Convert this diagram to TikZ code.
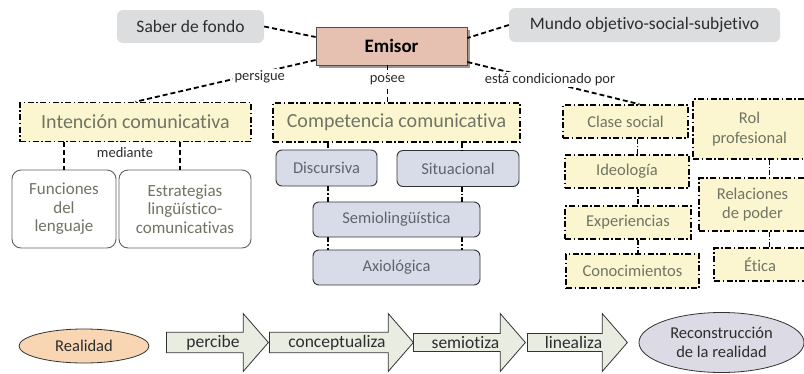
\documentclass[tikz,border=0pt]{standalone}
\usepackage{fontspec}
\setmainfont{Carlito}[Ligatures=NoCommon]
\usepackage{tikz}
\usetikzlibrary{arrows.meta, positioning, shapes.geometric, shapes.arrows, shadows}

\definecolor{boxgray}{RGB}{220,221,223}
\definecolor{emisorfill}{RGB}{230,193,178}
\definecolor{paleyellow}{RGB}{252,246,208}
\definecolor{sagetext}{RGB}{110,117,100}
\definecolor{paleblue}{RGB}{216,220,232}
\definecolor{bluetext}{RGB}{95,100,108}
\definecolor{palegreen}{RGB}{233,237,225}
\definecolor{peach}{RGB}{248,214,180}
\definecolor{lavender}{RGB}{220,218,228}
\definecolor{inktext}{RGB}{45,45,45}

\begin{document}
\begin{tikzpicture}[
      x=1pt, y=-1pt,
      background/.style={rounded corners=6pt, fill=boxgray, text=inktext, inner sep=0pt, font=\fontsize{17.5}{20}\selectfont},
      sender/.style={draw=gray!60!black, line width=0.8pt, fill=emisorfill, inner sep=0pt, font=\bfseries\fontsize{19}{22}\selectfont,
          drop shadow={shadow xshift=2.5pt, shadow yshift=-2.5pt, fill=gray!80, opacity=1}},
      goal/.style={draw=black, line width=1.5pt, dash pattern=on 6pt off 2.5pt on 1.5pt off 2.5pt, fill=paleyellow, text=sagetext,
          inner sep=0pt, align=center, font=\fontsize{20}{22}\selectfont},
      factor/.style={goal, font=\fontsize{16.5}{19.5}\selectfont},
      means/.style={draw=gray!75!black, line width=0.9pt, rounded corners=9pt, fill=white, text=sagetext, inner sep=0pt, align=center,
          font=\fontsize{17}{18.5}\selectfont},
      skill/.style={draw=gray!40!black, line width=0.9pt, rounded corners=6pt, fill=paleblue, text=bluetext, inner sep=0pt,
          font=\fontsize{16.5}{19}\selectfont},
      stage/.style={single arrow, draw=gray!40!black, line width=0.8pt, fill=palegreen, text=inktext, anchor=tail, inner sep=0pt,
          minimum width=58pt, single arrow head extend=14.5pt, single arrow tip angle=98, font=\fontsize{17.5}{20}\selectfont},
      world/.style={ellipse, draw=gray!40!black, line width=0.8pt, text=inktext, inner sep=0pt, align=center,
          font=\fontsize{16.5}{19}\selectfont},
      link/.style={line width=1.8pt, dash pattern=on 5pt off 3pt},
      dotlink/.style={line width=1.3pt, dash pattern=on 5pt off 2pt on 1.5pt off 2pt},
      verb/.style={fill=white, inner sep=1.5pt, text=inktext, font=\fontsize{14.5}{16}\selectfont}
  ]
      \useasboundingbox (0,0) rectangle (804,373);
      \clip (0,0) rectangle (804,373);

      % Top row
      \node[background, minimum width=147pt, minimum height=33pt] (saber) at (190.5,26.5) {Saber de fondo};
      \node[background, minimum width=271pt, minimum height=34pt] (mundo) at (644.5,25) {Mundo objetivo-social-subjetivo};
      \node[sender, minimum width=151pt, minimum height=38pt] (emisor) at (391.5,46) {Emisor};

      % Intention
      \node[goal, minimum width=231pt, minimum height=39pt] (intencion) at (135.5,122) {Intención comunicativa};
      \node[means, minimum width=104pt, minimum height=78pt] (funciones) at (64,209) {Funciones\\del\\lenguaje};
      \node[means, minimum width=132pt, minimum height=78pt] (estrategias) at (185,209) {Estrategias\\lingüístico-\\comunicativas};
      \node[verb, fill=none] (mediante) at (125,153) {mediante};

      % Competence
      \node[goal, minimum width=247pt, minimum height=39pt] (competencia) at (396.5,122.5) {Competencia comunicativa};
      \node[skill, minimum width=101pt, minimum height=36pt] (discursiva) at (326.5,168) {Discursiva};
      \node[skill, minimum width=122pt, minimum height=36pt] (situacional) at (458,168.5) {Situacional};
      \node[skill, minimum width=167pt, minimum height=35pt] (semio) at (396.5,219.5) {Semiolingüística};
      \node[skill, minimum width=167pt, minimum height=35pt] (axio) at (396.5,267.5) {Axiológica};

      % Conditions
      \node[factor, minimum width=125pt, minimum height=33pt] (clase) at (625.5,121.5) {Clase social};
      \node[factor, minimum width=124pt, minimum height=33pt] (ideologia) at (627,171.5) {Ideología};
      \node[factor, minimum width=126pt, minimum height=33pt] (experiencias) at (628,222.5) {Experiencias};
      \node[factor, minimum width=133pt, minimum height=34pt] (conocimientos) at (632.5,271) {Conocimientos};
      \node[factor, minimum width=113pt, minimum height=60pt] (rol) at (749.5,129) {Rol\\profesional};
      \node[factor, minimum width=107pt, minimum height=53pt] (relaciones) at (752.5,204.5) {Relaciones\\de poder};
      \node[factor, minimum width=92pt, minimum height=33pt] (etica) at (760,264.5) {Ética};

      % Links from Emisor
      \draw[link] (saber.east) -- ([yshift=9pt]emisor.west);
      \draw[link] (mundo.west) -- ([yshift=8pt]emisor.east);
      \draw[link] ([yshift=-14pt]emisor.west) -- node[verb, pos=0.31, yshift=-4pt] {persigue} (intencion.north);
      \draw[link] ([xshift=-4pt]emisor.south) -- node[verb, pos=0.4] {posee} ([xshift=-4pt]emisor.south |- competencia.north);
      \draw[link] ([yshift=-16pt]emisor.east) -- node[verb, pos=0.48, yshift=3pt] {está condicionado por} ([xshift=14pt]clase.north);

      % mediante
      \draw[link] (funciones.north |- intencion.south) -- (funciones.north);
      \draw[link] ([xshift=-5pt]estrategias.north |- intencion.south) -- ([xshift=-5pt]estrategias.north);

      % Competence links
      \foreach \col/\dx in {discursiva/1.5pt, situacional/4pt} {
          \draw[dotlink] ([xshift=\dx]\col.north |- competencia.south) -- ([xshift=\dx]\col.north);
          \draw[dotlink] ([xshift=\dx]\col.south) -- ([xshift=\dx]\col.south |- semio.north);
          \draw[dotlink] ([xshift=\dx]\col.south |- semio.south) -- ([xshift=\dx]\col.south |- axio.north);
      }

      % Condition links
      \draw[dotlink] ([xshift=12pt]clase.south) -- ([xshift=12pt]clase.south |- ideologia.north);
      \draw[dotlink] ([xshift=11pt]ideologia.south) -- ([xshift=11pt]ideologia.south |- experiencias.north);
      \draw[dotlink] ([xshift=10pt]experiencias.south) -- ([xshift=10pt]experiencias.south |- conocimientos.north);
      \draw[dotlink] ([xshift=20pt]rol.south) -- ([xshift=20pt]rol.south |- relaciones.north);
      \draw[dotlink] ([xshift=17pt]relaciones.south) -- ([xshift=17pt]relaciones.south |- etica.north);

      % Process
      \node[world, fill=peach, minimum width=130pt, minimum height=34pt] (realidad) at (84,346) {Realidad};
      \node[stage, minimum height=102pt] (percibe) at (166,342.5) {percibe};
      \node[stage, minimum height=144pt] (conceptualiza) at (269,342.5) {conceptualiza};
      \node[stage, minimum height=112pt] (semiotiza) at (413,342.5) {semiotiza};
      \node[stage, minimum height=100pt] (linealiza) at (527,342.5) {linealiza};
      \node[world, fill=lavender, minimum width=165pt, minimum height=60pt] (reconstruccion) at (721.5,342.5) {Reconstrucción\\de la realidad};
  \end{tikzpicture}
\end{document}
